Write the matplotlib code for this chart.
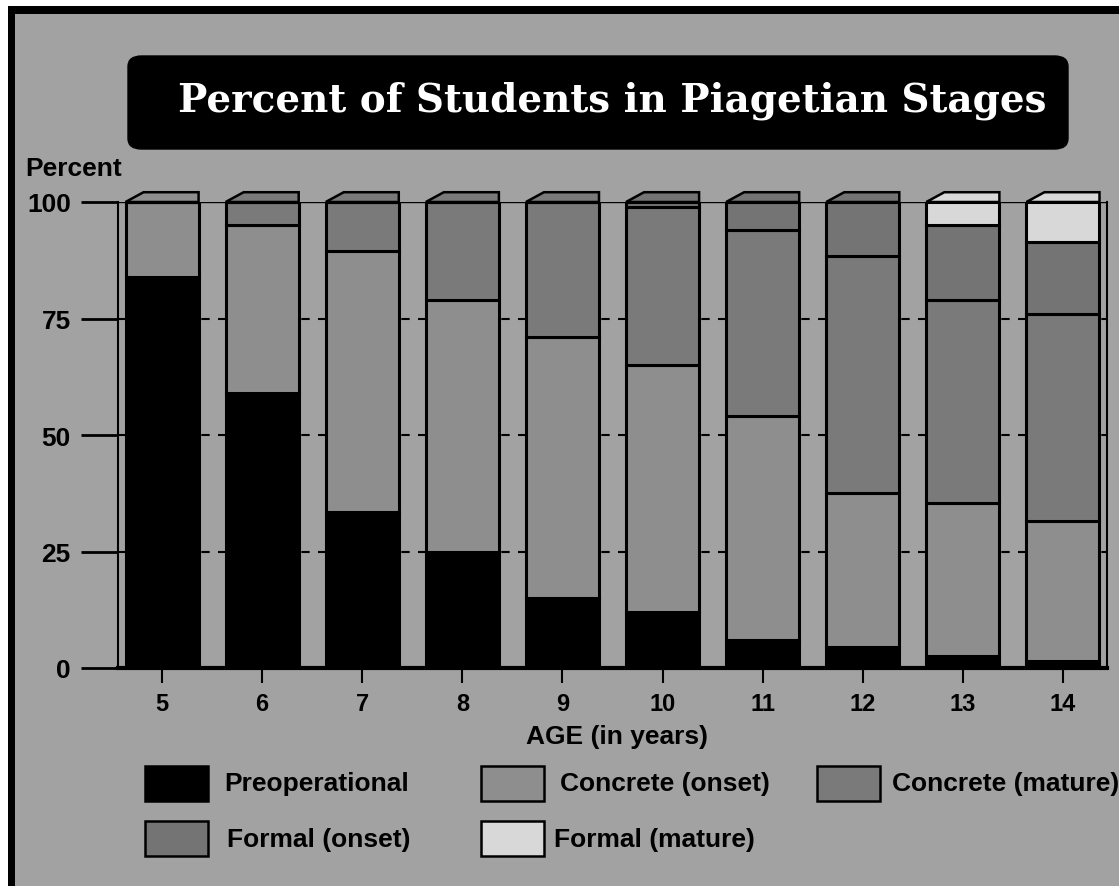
import matplotlib
matplotlib.use("Agg")
import matplotlib.pyplot as plt
from matplotlib.patches import FancyBboxPatch, Rectangle
import numpy as np

# ---- data ----
ages = ["5", "6", "7", "8", "9", "10", "11", "12", "13", "14"]
stages = ["Preoperational", "Concrete (onset)", "Concrete (mature)",
          "Formal (onset)", "Formal (mature)"]
preoperational = [84, 59, 33.5, 25, 15, 12, 6, 4.5, 2.5, 1.5]
concrete_onset = [16, 36, 56, 54, 56, 53, 48, 33, 33, 30]
concrete_mature = [0, 5, 10.5, 21, 29, 34, 40, 51, 43.5, 44.5]
formal_onset = [0, 0, 0, 0, 0, 1, 6, 11.5, 16, 15.5]
formal_mature = [0, 0, 0, 0, 0, 0, 0, 0, 5, 8.5]
series = [preoperational, concrete_onset, concrete_mature, formal_onset, formal_mature]
yticks = [0, 25, 50, 75, 100]

colors = ["#000000", "#8e8e8e", "#7a7a7a", "#747474", "#d8d8d8"]
bg = "#a2a2a2"
sans = ["Liberation Sans", "DejaVu Sans"]

W, H = 1119, 887
fig = plt.figure(figsize=(W/100, H/100), dpi=100, facecolor=bg)

def fx(px):
    return px / W

def fy(py):
    return 1 - py / H

ax = fig.add_axes([fx(118), fy(669), (1107-118)/W, (669-203)/H])
ax.set_facecolor(bg)

x = np.arange(len(ages))
width = 0.73
bottom = np.zeros(len(ages))
for vals, c in zip(series, colors):
    v = np.array(vals, dtype=float)
    ax.bar(x, v, bottom=bottom, width=width, color=c, edgecolor="black",
           linewidth=2.2, zorder=3)
    bottom += v

# 3D caps on top of the bars, coloured like the top segment
for i in range(len(ages)):
    tc = colors[0]
    for vals, c in zip(series, colors):
        if vals[i] > 0:
            tc = c
    l, r = x[i] - width/2, x[i] + width/2
    top = bottom[i]
    ax.fill([l, l + 0.18, r, r], [top, top + 2.1, top + 2.1, top],
            facecolor=tc, edgecolor="black", linewidth=1.8, zorder=3,
            clip_on=False)

ax.set_xlim(-0.44, 9.44)
ax.set_ylim(0, 100)
ax.set_yticks(yticks)
ax.set_yticklabels([str(t) for t in yticks], fontsize=19, fontweight="bold",
                   family=sans)
ax.set_xticks(x)
ax.set_xticklabels(ages, fontsize=17, fontweight="bold", family=sans)
ax.tick_params(axis="y", length=27, width=2, pad=7, direction="out")
ax.tick_params(axis="x", length=11, width=1.5, pad=6, direction="out")
for t in [25, 50, 75]:
    ax.axhline(t, color="black", linestyle=(0, (4, 4)), linewidth=1.5, zorder=1)
ax.axhline(100, color="black", linewidth=1, zorder=1)
for s in ["left", "right"]:
    ax.spines[s].set_linewidth(1.5)
ax.spines["top"].set_visible(False)
ax.spines["bottom"].set_linewidth(3)

ax.set_xlabel("AGE (in years)", fontsize=19, fontweight="bold", family=sans)
ax.xaxis.set_label_coords((617-118)/(1107-118), -(737-669)/(669-203))
ax.xaxis.label.set_va("center")

fig.text(fx(25), fy(169), "Percent", fontsize=19, fontweight="bold",
         family=sans, ha="left", va="center")

# title box
box = FancyBboxPatch((fx(128), fy(150)), (1068-128)/W, (150-57)/H,
                     boxstyle="round,pad=0,rounding_size=0.012",
                     transform=fig.transFigure, facecolor="black",
                     edgecolor="black")
fig.add_artist(box)
fig.text(fx(612), fy(101), "Percent of Students in Piagetian Stages",
         color="white", fontsize=28, fontweight="bold", family="DejaVu Serif",
         ha="center", va="center")

# figure border (white margin, then black line, left and top)
fig.add_artist(Rectangle((0, 0), fx(8), 1, transform=fig.transFigure,
                         facecolor="white", edgecolor="none"))
fig.add_artist(Rectangle((0, fy(7)), 1, 7/H, transform=fig.transFigure,
                         facecolor="white", edgecolor="none"))
fig.add_artist(Rectangle((fx(8), 0), 7/W, fy(7), transform=fig.transFigure,
                         facecolor="black", edgecolor="none"))
fig.add_artist(Rectangle((fx(8), fy(15)), 1, 8/H, transform=fig.transFigure,
                         facecolor="black", edgecolor="none"))

# legend
swatch_pos = [(145, 767), (481, 767), (817, 767), (145, 822), (481, 822)]
text_pos = [(224, 784), (560, 784), (892, 784), (227, 840), (554, 840)]
for (sx, sy), (tx, ty), name, c in zip(swatch_pos, text_pos, stages, colors):
    fig.add_artist(Rectangle((fx(sx), fy(sy + 35)), 63/W, 35/H,
                             transform=fig.transFigure, facecolor=c,
                             edgecolor="black", linewidth=1.8))
    fig.text(fx(tx), fy(ty), name, fontsize=19, fontweight="bold",
             family=sans, ha="left", va="center")

fig.savefig("out.png", dpi=100, facecolor=bg)
